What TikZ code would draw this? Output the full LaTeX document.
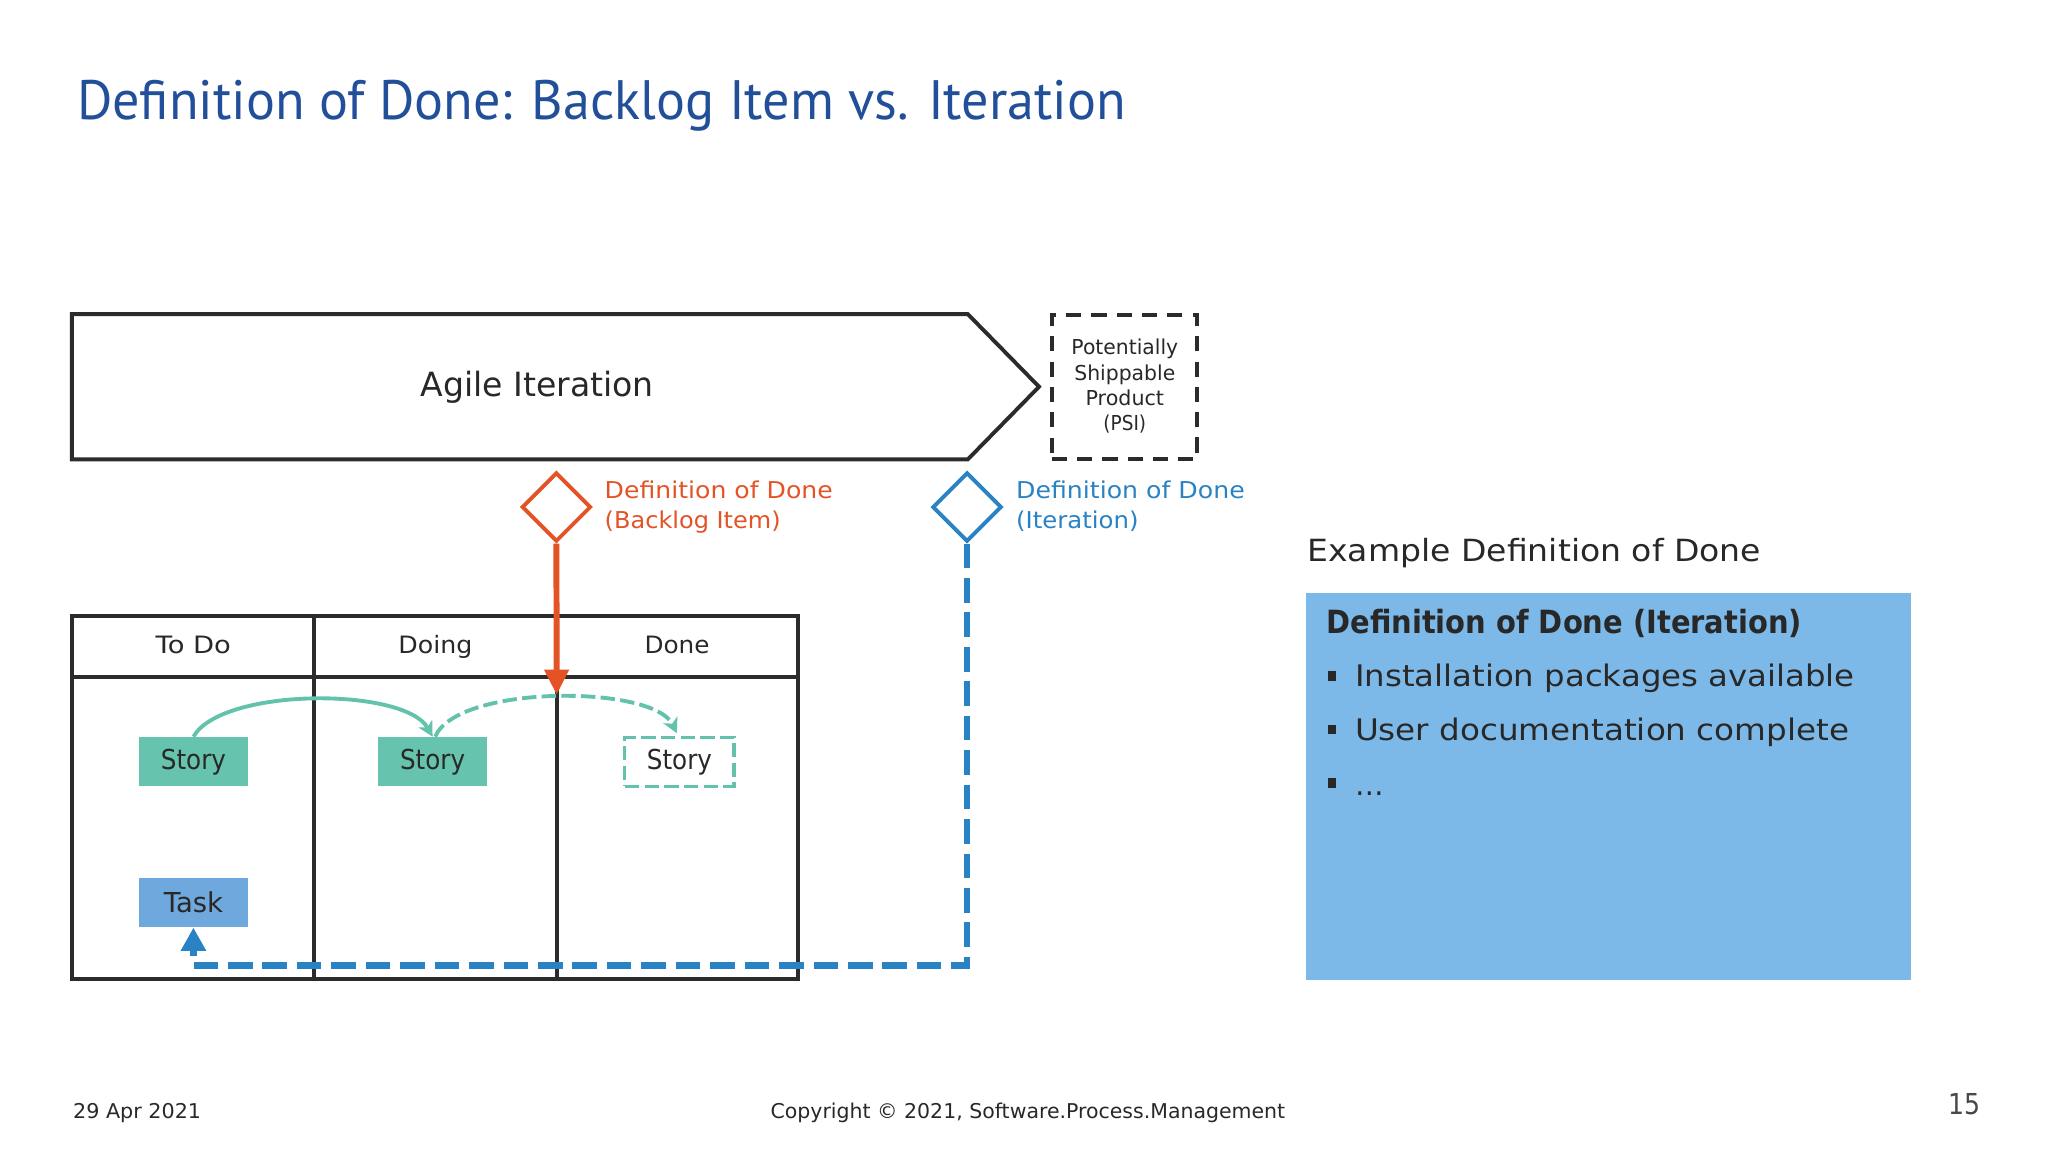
\documentclass[tikz,border=0pt]{standalone}
\usepackage{fontspec}
\setmainfont{DejaVu Sans}
\newfontfamily\titlefont{PT Sans}
\usetikzlibrary{arrows.meta,shapes.geometric}
\newlength\uu
\setlength\uu{0.0130612cm}
\newcommand\fw[2]{\resizebox{#1\uu}{\height}{#2}}
\definecolor{ttlblue}{RGB}{33,79,153}
\definecolor{ink}{RGB}{40,40,40}
\definecolor{frameink}{RGB}{43,43,43}
\definecolor{dodred}{RGB}{227,83,38}
\definecolor{dodblue}{RGB}{41,130,196}
\definecolor{teal}{RGB}{98,194,172}
\definecolor{storyfill}{RGB}{102,195,174}
\definecolor{taskfill}{RGB}{111,168,220}
\definecolor{boxfill}{RGB}{125,185,232}
\begin{document}
\begin{tikzpicture}[x=0.0130612cm, y=-0.0130612cm,
  txt/.style={inner sep=0pt, outer sep=0pt, text=ink},
  frame/.style={draw=frameink, line width=1.1pt},
  psibox/.style={draw=frameink, line width=1.1pt, dash pattern=on 4.3pt off 2.9pt, minimum width=111\uu, minimum height=110.5\uu, inner sep=0pt},
  dia/.style={shape=diamond, draw, line width=1.1pt, minimum width=53\uu, minimum height=53\uu, inner sep=0pt, fill=white},
  card/.style={minimum width=83.5\uu, minimum height=37.3\uu, inner sep=0pt, text=ink, font=\fontsize{7.8}{9}\selectfont},
  tealline/.style={draw=teal, line width=1.1pt},
  tealdash/.style={dash pattern=on 4.1pt off 1.5pt},
  tealtip/.style={-{Stealth[length=4.2pt,width=4.4pt,inset=1.2pt]}},
  redline/.style={draw=dodred, line width=1.7pt, -{Triangle[length=7.2pt,width=6.7pt]}},
  blueline/.style={draw=dodblue, line width=1.9pt, dash pattern=on 7pt off 2.8pt, -{Triangle[length=6.6pt,width=6.8pt]}},
  sq/.style={fill=ink, minimum width=6.3\uu, minimum height=7.3\uu, inner sep=0pt},
]
\path[use as bounding box] (0,0) rectangle (1568,882);

% title
\node[txt, anchor=base west, text=ttlblue, font=\titlefont\fontsize{15.8}{18}\selectfont] (title) at (59,91.4) {\fw{803}{Definition of Done: Backlog Item vs. Iteration}};

% agile iteration shape
\draw[frame, line join=miter] (55,240.5) -- (741,240.5) -- (795.5,296.1) -- (741,351.7) -- (55,351.7) -- cycle;
\node[txt, anchor=base, font=\fontsize{9.5}{11}\selectfont] (agile) at (411.2,303.2) {\fw{178.7}{Agile Iteration}};

% PSI
\node[psibox] (psi) at (860.8,296.5) {};
\node[txt, anchor=base, font=\fontsize{5.85}{7}\selectfont] (psi1) at (861.2,271.3) {\fw{81.7}{Potentially}};
\node[txt, anchor=base, font=\fontsize{5.85}{7}\selectfont] (psi2) at (861.2,291) {\fw{77.3}{Shippable}};
\node[txt, anchor=base, font=\fontsize{5.85}{7}\selectfont] (psi3) at (861.2,310.3) {\fw{60}{Product}};
\node[txt, anchor=base, font=\fontsize{5.85}{7}\selectfont] (psi4) at (861.2,329.3) {\fw{32.7}{(PSI)}};

% diamonds and labels
\node[dia, draw=dodred] (dodb) at (426,388.2) {};
\node[dia, draw=dodblue] (dodi) at (740.4,388.2) {};
\node[txt, anchor=base west, text=dodred, font=\fontsize{6.6}{8}\selectfont] (lb1) at (463,381.6) {\fw{174.6}{Definition of Done}};
\node[txt, anchor=base west, text=dodred, font=\fontsize{6.6}{8}\selectfont] (lb2) at (463,404.5) {\fw{134.7}{(Backlog Item)}};
\node[txt, anchor=base west, text=dodblue, font=\fontsize{6.6}{8}\selectfont] (li1) at (778,381.6) {\fw{175}{Definition of Done}};
\node[txt, anchor=base west, text=dodblue, font=\fontsize{6.6}{8}\selectfont] (li2) at (778,404.5) {\fw{93.7}{(Iteration)}};

% board
\draw[frame] (55,471.7) rectangle (610.8,749.6);
\draw[frame] (55,518.6) -- (610.8,518.6);
\draw[frame] (240.6,471.7) -- (240.6,749.6);
\draw[frame] (426.2,471.7) -- (426.2,749.6);
\node[txt, anchor=base, font=\fontsize{6.8}{8}\selectfont] (todo) at (148,500.2) {\fw{57.6}{To Do}};
\node[txt, anchor=base, font=\fontsize{6.8}{8}\selectfont] (doing) at (333.4,500.2) {\fw{56.6}{Doing}};
\node[txt, anchor=base, font=\fontsize{6.8}{8}\selectfont] (done) at (518.4,500.2) {\fw{49.8}{Done}};

% cards
\node[card, fill=storyfill] (s1) at (148.1,583.2) {\fw{49.8}{Story}};
\node[card, fill=storyfill] (s2) at (331.2,583.2) {\fw{49.8}{Story}};
\node[card, fill=white, draw=teal, line width=0.9pt, tealdash] (s3) at (520.2,583.2) {\fw{49.8}{Story}};
\node[card, fill=taskfill] (task) at (148.1,691) {\fw{45.4}{Task}};

% teal arrows
\draw[tealline, tealtip] (s1.north) .. controls (170,526) and (310,526) .. (s2.north);
\draw[tealline, tealdash, tealtip] ([xshift=2\uu]s2.north) .. controls (350,524) and (500,524) .. ([xshift=-2\uu,yshift=2\uu]s3.north);

% DoD connectors
\coordinate (redtip) at (426.2,532);
\draw[redline] (dodb.south) -- (redtip);
\coordinate (bturn) at (148.1,739.4);
\draw[blueline] (dodi.south) |- (bturn) -- (task.south);

% right side
\node[txt, anchor=base west, font=\fontsize{8.7}{10}\selectfont] (ex) at (1001,430) {\fw{347.4}{Example Definition of Done}};
\node[fill=boxfill, minimum width=463.4\uu, minimum height=296.6\uu, inner sep=0pt] (dodbox) at (1231.7,602.1) {};
\node[txt, anchor=base west, font=\bfseries\fontsize{9.1}{11}\selectfont] (bt) at (1015.5,485) {\fw{364.2}{Definition of Done (Iteration)}};
\node[sq] (q1) at (1020,517.6) {};
\node[sq] (q2) at (1020,558.4) {};
\node[sq] (q3) at (1020,599.6) {};
\node[txt, anchor=base west, font=\fontsize{8.45}{10}\selectfont] (t1) at (1037.5,525.8) {\fw{382.5}{Installation packages available}};
\node[txt, anchor=base west, font=\fontsize{8.45}{10}\selectfont] (t2) at (1037.5,567.1) {\fw{378.3}{User documentation complete}};
\node[txt, anchor=base west, font=\fontsize{8.45}{10}\selectfont] (t3) at (1037.5,608.7) {\fw{21.9}{…}};

% footer
\node[txt, anchor=base west, font=\fontsize{5.8}{7}\selectfont] (date) at (56,856) {\fw{98}{29 Apr 2021}};
\node[txt, anchor=base west, font=\fontsize{5.8}{7}\selectfont] (copy) at (590,856) {\fw{394}{Copyright © 2021, Software.Process.Management}};
\node[txt, anchor=base west, text=ink!85, font=\fontsize{8.2}{10}\selectfont] (page) at (1492,853) {\fw{24.5}{15}};
\end{tikzpicture}
\end{document}
